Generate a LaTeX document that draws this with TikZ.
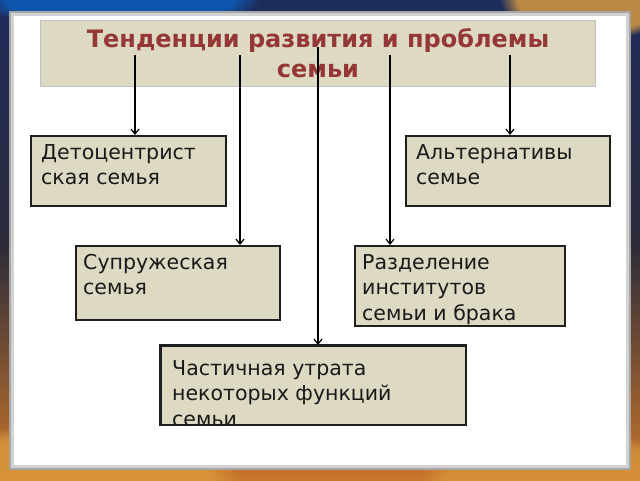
\documentclass[tikz,border=0pt]{standalone}
\usepackage{fontspec}
\setmainfont{DejaVu Sans}
\usetikzlibrary{arrows.meta,fadings}
\definecolor{boxfill}{HTML}{DDD9C3}
\definecolor{titlered}{HTML}{953735}
\definecolor{bgblue}{HTML}{1E2C5C}
\definecolor{bgdark}{HTML}{2A2A3A}
\definecolor{bgorange}{HTML}{C8762A}
\definecolor{bggold}{HTML}{E0A040}
\begin{document}
\begin{tikzpicture}[x=1pt,y=-1pt,
  box/.style={draw=black!88, line width=1.6pt, fill=boxfill, anchor=north west, inner sep=0},
  lbl/.style={anchor=north west, inner sep=0, align=left, font=\fontsize{20.5}{25.5}\selectfont, text=black!90},
  conn/.style={line width=1.7pt, draw=black, -{Straight Barb[length=5pt,width=8pt,line width=1.2pt]}}]
\useasboundingbox (0,0) rectangle (640,480);
% background
\shade[top color=bgblue, bottom color=bgorange, middle color=bgdark] (0,0) rectangle (640,480);
\fill[bggold, path fading=circle with fuzzy edge 20 percent, opacity=0.8] (590,0) ellipse (90 and 40);
\fill[bggold, path fading=circle with fuzzy edge 20 percent, opacity=0.7] (80,480) ellipse (160 and 60);
\fill[bggold, path fading=circle with fuzzy edge 20 percent, opacity=0.6] (560,480) ellipse (140 and 50);
\fill[blue!50!cyan, path fading=circle with fuzzy edge 20 percent, opacity=0.5] (120,0) ellipse (140 and 30);
% panel
\fill[gray!70] (9,11) rectangle (631,470);
\fill[gray!35] (11,13) rectangle (629,468);
\fill[white] (14,16) rectangle (626,465);
% title
\node[fill=boxfill, draw=gray!50, line width=0.8pt, anchor=north west, minimum width=555pt, minimum height=66pt, inner sep=0] (title) at (40,20) {};
\node[anchor=north, inner sep=0, align=center, font=\bfseries\fontsize{24}{30}\selectfont, text=titlered] (ttext) at (318,28) {Тенденции развития и проблемы\\семьи};
% boxes
\node[box, minimum width=195pt, minimum height=70pt] (b1) at (30,135) {};
\node[box, minimum width=204pt, minimum height=70pt] (b2) at (405,135) {};
\node[box, minimum width=204pt, minimum height=74pt] (b3) at (75,245) {};
\node[box, minimum width=210pt, minimum height=80pt] (b4) at (354,245) {};
\node[box, minimum width=305pt, minimum height=79pt] (b5) at (160,345) {};
\node[lbl] (l1) at ([shift={(11,6)}]b1.north west) {\strut Детоцентрист\\ская семья};
\node[lbl] (l2) at ([shift={(11,6)}]b2.north west) {\strut Альтернативы\\семье};
\node[lbl] (l3) at ([shift={(8,6)}]b3.north west) {\strut Супружеская\\семья};
\node[lbl] (l4) at ([shift={(8,6)}]b4.north west) {\strut Разделение\\институтов\\семьи и брака};
\begin{scope}
\clip (b5.north west) rectangle (b5.south east);
\node[lbl] (l5) at ([shift={(12,12)}]b5.north west) {\strut Частичная утрата\\некоторых функций\\семьи};
\end{scope}
\draw[draw=black!88, line width=1.6pt] (b5.north west) rectangle (b5.south east);
% connectors
\coordinate (s1) at (135,55);
\coordinate (s2) at (240,55);
\coordinate (s3) at (318,47);
\coordinate (s4) at (390,55);
\coordinate (s5) at (510,55);
\draw[conn] (s1) -- (s1 |- b1.north);
\draw[conn] (s2) -- (s2 |- b3.north);
\draw[conn] (s3) -- (s3 |- b5.north);
\draw[conn] (s4) -- (s4 |- b4.north);
\draw[conn] (s5) -- (s5 |- b2.north);
\end{tikzpicture}
\end{document}
